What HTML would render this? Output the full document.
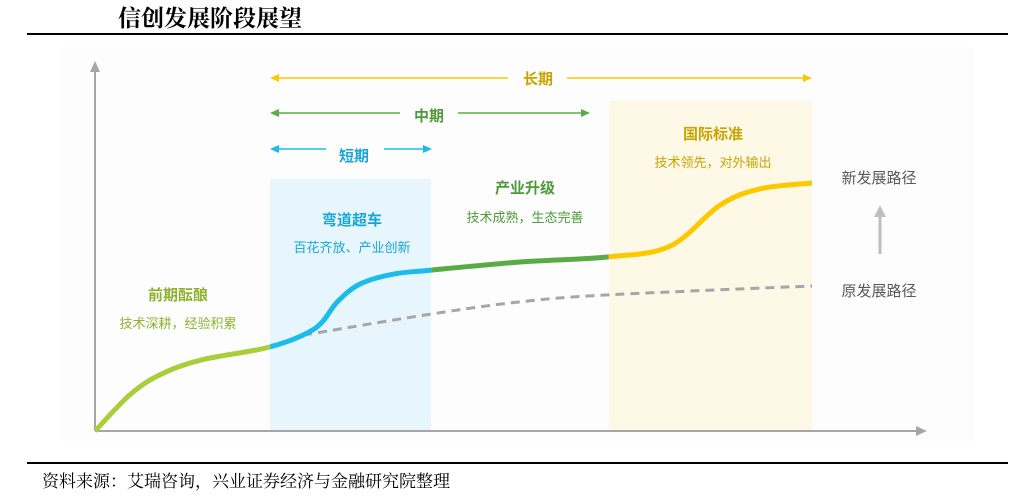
<!DOCTYPE html>
<html><head><meta charset="utf-8"><style>
body{margin:0;width:1032px;height:493px;background:#fff;overflow:hidden;font-family:"Liberation Sans","Noto Sans CJK SC",sans-serif;}
</style></head><body>
<svg width="1032" height="493" xmlns="http://www.w3.org/2000/svg">
<text x="118" y="26" font-family="'Noto Serif CJK SC','Liberation Serif',serif" font-size="23" font-weight="bold" fill="#000">信创发展阶段展望</text>
<line x1="27" y1="34" x2="1008" y2="34" stroke="#000" stroke-width="2"/>
<rect x="63" y="47" width="912" height="395" fill="#fdfdfd"/>
<rect x="270" y="179" width="161" height="252" fill="#e6f6fc"/>
<rect x="609" y="101" width="203" height="330" fill="#fef8e6"/>
<g id="axes">
<line x1="95" y1="431" x2="95" y2="70" stroke="#a6a6a6" stroke-width="2"/>
<polygon points="95,61 90,72 100,72" fill="#a6a6a6"/>
<line x1="95" y1="431" x2="917" y2="431" stroke="#a6a6a6" stroke-width="2"/>
<polygon points="927,431 916,426 916,436" fill="#a6a6a6"/>
</g>
<g>
<line x1="276" y1="78" x2="508" y2="78" stroke="#fcc800" stroke-width="1.5"/><line x1="567" y1="78" x2="804" y2="78" stroke="#fcc800" stroke-width="1.5"/>
<polygon points="270,78 279,74 279,82" fill="#fcc800"/><polygon points="812,78 803,74 803,82" fill="#fcc800"/>
<text x="538" y="84" text-anchor="middle" font-size="15" font-weight="bold" fill="#c9a400">长期</text>
<line x1="276" y1="113" x2="400" y2="113" stroke="#5aab46" stroke-width="1.5"/><line x1="458" y1="113" x2="583" y2="113" stroke="#5aab46" stroke-width="1.5"/>
<polygon points="270,113 279,109 279,117" fill="#5aab46"/><polygon points="590,113 581,109 581,117" fill="#5aab46"/>
<text x="429" y="121" text-anchor="middle" font-size="15" font-weight="bold" fill="#4e9a3a">中期</text>
<line x1="276" y1="149" x2="326" y2="149" stroke="#1bbbea" stroke-width="1.5"/><line x1="384" y1="149" x2="425" y2="149" stroke="#1bbbea" stroke-width="1.5"/>
<polygon points="270,149 279,145 279,153" fill="#1bbbea"/><polygon points="432,149 423,145 423,153" fill="#1bbbea"/>
<text x="354" y="161" text-anchor="middle" font-size="15" font-weight="bold" fill="#1aa6d4">短期</text>
</g>
<g font-size="15" font-weight="bold" text-anchor="middle">
<text x="178" y="300" fill="#8db22e">前期酝酿</text><text x="178" y="328" font-size="13" font-weight="normal" fill="#8db22e">技术深耕，经验积累</text>
<text x="352" y="225" fill="#1aa6d4">弯道超车</text><text x="352" y="252" font-size="13" font-weight="normal" fill="#1aa6d4">百花齐放、产业创新</text>
<text x="525" y="193" fill="#4e9a3a">产业升级</text><text x="525" y="222" font-size="13" font-weight="normal" fill="#4e9a3a">技术成熟，生态完善</text>
<text x="713" y="139" fill="#c9a400">国际标准</text><text x="713" y="167" font-size="13" font-weight="normal" fill="#c9a400">技术领先，对外输出</text>
</g>
<text x="879" y="183" text-anchor="middle" font-size="15" fill="#595959">新发展路径</text>
<text x="879" y="296" text-anchor="middle" font-size="15" fill="#595959">原发展路径</text>
<line x1="880" y1="254" x2="880" y2="215" stroke="#bfbfbf" stroke-width="3"/>
<polygon points="880,205 874,217 886,217" fill="#bfbfbf"/>
<g id="series"></g>
<line x1="27" y1="463" x2="1008" y2="463" stroke="#000" stroke-width="2"/>
<text x="42" y="487" font-family="'Noto Serif CJK SC','Liberation Serif',serif" font-size="17" fill="#000">资料来源：艾瑞咨询，兴业证券经济与金融研究院整理</text>
</svg>
<script>
const newT=[0,4.2,7.8,12.7,21.1,26.5,29.2,31.9,35.9,40.5,51.2,61.9,69.3,75.3,80.1,86.4];
const newV=[0,9.8,15.2,19.2,22.8,27.8,35.0,39.8,42.5,43.6,45.8,47.2,50.1,61.2,65.6,67.2];
const oldT=[25.1,40.5,51.2,61.9,86.4];
const oldV=[26,31.7,35,36.9,39.3];
const stageBreaks=[0,21.1,40.5,61.9,86.4];
const stageColors=['#a8cf3a','#1bbbea','#5aab46','#fcc800'];
const xs=t=>95+t*8.3, ys=v=>431-v*3.69;
function path(T,V){const p=T.map((t,i)=>[xs(t),ys(V[i])]);let d='M'+p[0][0]+','+p[0][1];
for(let i=0;i<p.length-1;i++){const a=p[i-1]||p[i],b=p[i],c=p[i+1],e=p[i+2]||c;
d+=` C${b[0]+(c[0]-a[0])/6},${b[1]+(c[1]-a[1])/6} ${c[0]-(e[0]-b[0])/6},${c[1]-(e[1]-b[1])/6} ${c[0]},${c[1]}`;}return d;}
const g=document.getElementById('series'),NS='http://www.w3.org/2000/svg';
const old=document.createElementNS(NS,'path');old.setAttribute('d',path(oldT,oldV));
old.setAttribute('fill','none');old.setAttribute('stroke','#a6a6a6');old.setAttribute('stroke-width','3');old.setAttribute('stroke-dasharray','9,6');


g.appendChild(old);
const full=path(newT,newV);
for(let s=0;s<4;s++){
const cid='c'+s;const cp=document.createElementNS(NS,'clipPath');cp.id=cid;
const r=document.createElementNS(NS,'rect');r.setAttribute('x',xs(stageBreaks[s]));r.setAttribute('width',xs(stageBreaks[s+1])-xs(stageBreaks[s]));r.setAttribute('y',0);r.setAttribute('height',493);
cp.appendChild(r);g.appendChild(cp);
const p=document.createElementNS(NS,'path');p.setAttribute('d',full);p.setAttribute('fill','none');p.setAttribute('stroke',stageColors[s]);p.setAttribute('stroke-width','5');p.setAttribute('clip-path','url(#'+cid+')');


g.appendChild(p);}
</script>
</body></html>
